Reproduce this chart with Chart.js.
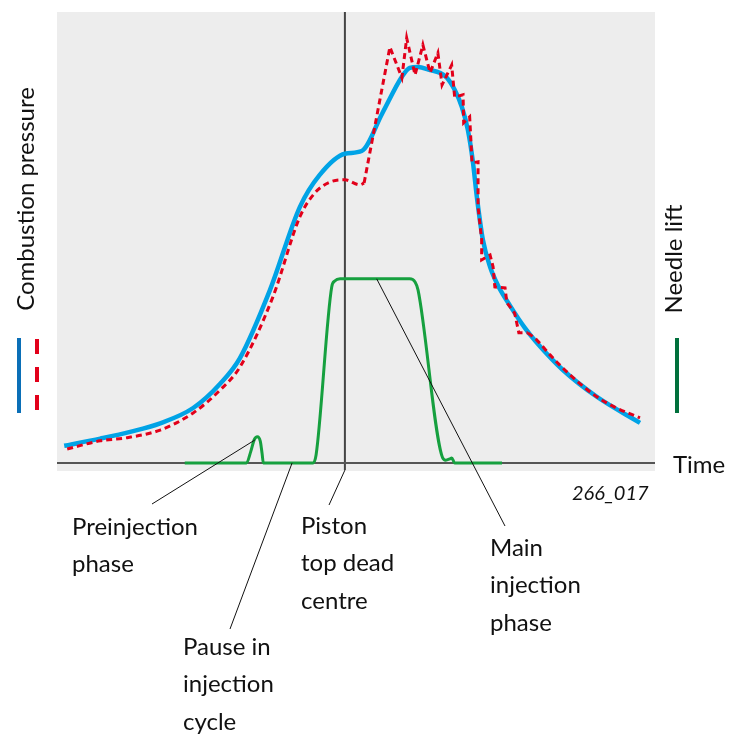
<!DOCTYPE html>
<html>
<head>
<meta charset="utf-8">
<script src="https://cdn.jsdelivr.net/npm/chart.js@4/dist/chart.umd.min.js"></script>
<style>
  html, body { margin: 0; padding: 0; background: #ffffff; }
  #wrap { width: 739px; height: 735px; }
</style>
</head>
<body>
<div id="wrap"><canvas id="injectionChart" width="739" height="735"></canvas></div>
<script>
// crank angle (deg, TDC = 0) and relative values
const pressureAngle = [-46.8, -40.8, -35.8, -30.8, -25.3, -20.8, -17.5, -12.5, -7.5, -4.2, 0, 2.8, 6.2, 9.5, 10.8, 12.2, 14.2, 15.8, 17, 18.3, 19.5, 20.5, 21.3, 22, 23, 24.2, 25.5, 27.5, 30, 32, 36.3, 42, 49.2];
const pressureValue = [3.8, 5.4, 6.9, 8.8, 12.2, 17.6, 23.3, 38.4, 56.9, 64, 68.7, 69.3, 77.6, 85.8, 87.8, 88, 87.3, 86.7, 85.6, 82.9, 79.1, 74, 67.3, 59.1, 49.6, 43.6, 39.5, 35, 30, 26.7, 20.7, 14.7, 8.9];

// measured (dashed) trace: smooth rise, jagged combustion phase, smooth tail
const riseAngle = [-46.3, -40.8, -36.3, -30.8, -25.3, -20.8, -17.5, -12, -7.5, -5, -2.5, 0, 2.5, 3.2];
const riseValue = [3.1, 4.9, 5.6, 7.3, 11.1, 16.2, 21.3, 36.9, 54.7, 60, 62.4, 62.9, 61.8, 62.2];

const peakAngle = [3.2, 7.5, 9.5, 10.3, 11.7, 13, 14.2, 15.5, 16.2, 17.8, 18.3, 19.7, 19.8, 20.8, 21.2, 22.2, 22.2, 22.8, 22.8, 24.2, 24.7, 25, 26.7, 27, 28.3, 29, 30.5];
const peakValue = [62.2, 92.4, 85.6, 94.4, 86.2, 92.9, 86.7, 91.1, 84, 88.4, 81.3, 81.8, 75.6, 76.9, 66.7, 66.9, 56.9, 49.6, 45.1, 46.2, 43.6, 39.1, 38.9, 35.6, 33.3, 28.9, 28.9];

const tailAngle = [30.5, 32, 34.2, 37.5, 42, 45.3, 49.2];
const tailValue = [28.9, 27.3, 24, 19.6, 14.7, 12.2, 10];

const needleAngle = [-26.7, -16.4, -15.7, -15.1, -14.6, -14.1, -13.8, -13.6, -5.3, -4.8, -2.2, -1.7, -0.8, 10.8, 11.7, 12.2, 16.3, 16.8, 17.5, 17.8, 18.3, 26.2];
const needleValue = [0, 0, 2.5, 5.2, 5.8, 4.8, 2, 0, 0, 1.8, 39.1, 40.4, 40.9, 40.9, 40.2, 38.4, 1.1, 0.6, 0.9, 1.1, 0, 0];

const angleRange = [-48, 51.7];
const valueRange = [-1.8, 100.2];

// callouts: anchor in data units, text block in page pixels
const callouts = [
  { lines: ['Preinjection', 'phase'], at: [-15, 5.1], end: [152, 504], text: [72, 527] },
  { lines: ['Pause in', 'injection', 'cycle'], at: [-8.8, 0], end: [230, 629], text: [183, 647] },
  { lines: ['Piston', 'top dead', 'centre'], at: [0, -1.6], end: [329, 505], text: [301, 526] },
  { lines: ['Main', 'injection', 'phase'], at: [5.3, 40.9], end: [505, 526], text: [490, 548] }
];

const toPoints = (xs, ys) => xs.map((x, i) => ({ x: x, y: ys[i] }));

const FONT = 'Lato, "Open Sans", sans-serif';
const RED = '#e2001a';

const diagramDecor = {
  id: 'diagramDecor',
  beforeDraw(chart) {
    const { ctx, chartArea: a } = chart;
    ctx.save();
    ctx.fillStyle = '#ededed';
    ctx.fillRect(a.left, a.top, a.right - a.left, a.bottom - a.top);
    ctx.restore();
  },
  afterDraw(chart) {
    const { ctx } = chart;
    const xs = chart.scales.x, ys = chart.scales.y;
    ctx.save();

    // leader lines + labels
    ctx.strokeStyle = '#111';
    ctx.lineWidth = 1;
    ctx.fillStyle = '#111';
    ctx.font = '24px ' + FONT;
    ctx.textBaseline = 'middle';
    ctx.textAlign = 'left';
    callouts.forEach(c => {
      ctx.beginPath();
      ctx.moveTo(xs.getPixelForValue(c.at[0]), ys.getPixelForValue(c.at[1]));
      ctx.lineTo(c.end[0], c.end[1]);
      ctx.stroke();
      c.lines.forEach((t, i) => ctx.fillText(t, c.text[0], c.text[1] + i * 37.5));
    });

    // figure number
    ctx.font = 'italic 20px ' + FONT;
    ctx.fillText('266_017', 572, 494);

    // time label
    ctx.font = '24px ' + FONT;
    ctx.fillText('Time', 673, 465);

    // vertical axis titles
    ctx.save();
    ctx.translate(26, 199);
    ctx.rotate(-Math.PI / 2);
    ctx.textAlign = 'center';
    ctx.fillText('Combustion pressure', 0, 0);
    ctx.restore();
    ctx.save();
    ctx.translate(674, 259);
    ctx.rotate(-Math.PI / 2);
    ctx.textAlign = 'center';
    ctx.fillText('Needle lift', 0, 0);
    ctx.restore();

    // key bars
    ctx.lineWidth = 4;
    ctx.strokeStyle = '#0a6fb7';
    ctx.beginPath(); ctx.moveTo(19, 338); ctx.lineTo(19, 413); ctx.stroke();
    ctx.strokeStyle = RED;
    ctx.setLineDash([15, 13]);
    ctx.beginPath(); ctx.moveTo(37, 339); ctx.lineTo(37, 413); ctx.stroke();
    ctx.setLineDash([]);
    ctx.strokeStyle = '#00703c';
    ctx.beginPath(); ctx.moveTo(677, 338); ctx.lineTo(677, 413); ctx.stroke();

    ctx.restore();
  }
};

const dashed = { borderColor: RED, borderWidth: 3, borderDash: [6, 4], pointRadius: 0, order: 0 };

const ctx = document.getElementById('injectionChart').getContext('2d');
new Chart(ctx, {
  type: 'line',
  data: {
    datasets: [
      Object.assign({ label: 'Measured rise', data: toPoints(riseAngle, riseValue), cubicInterpolationMode: 'monotone' }, dashed),
      Object.assign({ label: 'Measured peak', data: toPoints(peakAngle, peakValue), tension: 0 }, dashed),
      Object.assign({ label: 'Measured tail', data: toPoints(tailAngle, tailValue), cubicInterpolationMode: 'monotone' }, dashed),
      {
        label: 'Needle lift',
        data: toPoints(needleAngle, needleValue),
        borderColor: '#16a03f',
        borderWidth: 3,
        cubicInterpolationMode: 'monotone',
        pointRadius: 0,
        order: 1
      },
      {
        label: 'Combustion pressure',
        data: toPoints(pressureAngle, pressureValue),
        borderColor: '#00a3e6',
        borderWidth: 4.5,
        cubicInterpolationMode: 'monotone',
        pointRadius: 0,
        order: 2
      },
      {
        label: 'Time axis',
        data: [{ x: angleRange[0], y: 0 }, { x: angleRange[1], y: 0 }],
        borderColor: '#555',
        borderWidth: 2,
        pointRadius: 0,
        order: 3
      },
      {
        label: 'TDC',
        data: [{ x: 0, y: -1.6 }, { x: 0, y: valueRange[1] }],
        borderColor: '#444',
        borderWidth: 2,
        pointRadius: 0,
        order: 3
      }
    ]
  },
  options: {
    responsive: false,
    animation: false,
    devicePixelRatio: 1,
    layout: { padding: { left: 57, right: 84, top: 12, bottom: 264 } },
    plugins: { legend: { display: false }, tooltip: { enabled: false } },
    scales: {
      x: { type: 'linear', min: angleRange[0], max: angleRange[1], display: false },
      y: { min: valueRange[0], max: valueRange[1], display: false }
    }
  },
  plugins: [diagramDecor]
});
</script>
</body>
</html>
